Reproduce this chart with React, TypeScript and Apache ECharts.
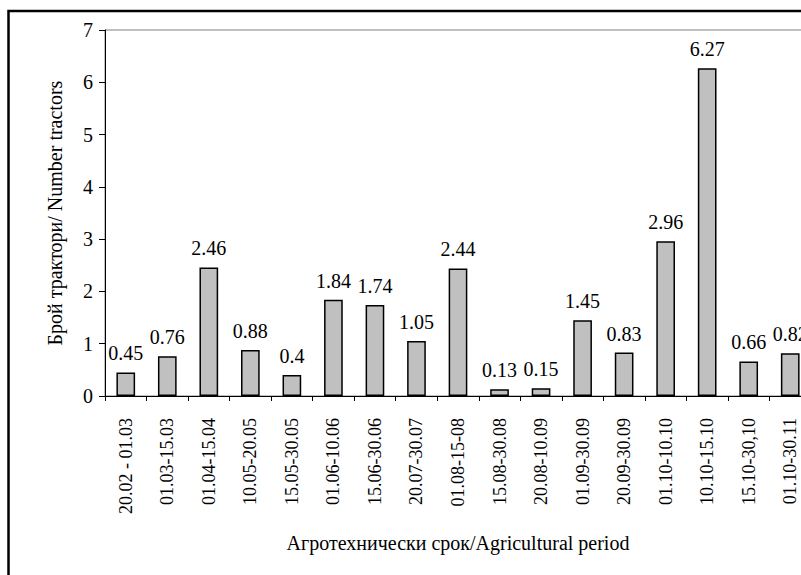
import React, { useEffect, useRef } from "react";
import * as echarts from "echarts";

const categories = [
  "20.02 - 01.03", "01.03-15.03", "01.04-15.04", "10.05-20.05", "15.05-30.05",
  "01.06-10.06", "15.06-30.06", "20.07-30.07", "01.08-15-08", "15.08-30.08",
  "20.08-10.09", "01.09-30.09", "20.09-30.09", "01.10-10.10", "10.10-15.10",
  "15.10-30,10", "01.10-30.11",
];
const tractors = [0.45, 0.76, 2.46, 0.88, 0.4, 1.84, 1.74, 1.05, 2.44, 0.13, 0.15, 1.45, 0.83, 2.96, 6.27, 0.66, 0.82];
const yTicks = [0, 1, 2, 3, 4, 5, 6, 7];
const yTitle = "Брой трактори/ Number tractors";
const xTitle = "Агротехнически срок/Agricultural period";

const FONT = "Liberation Serif";

export default function App() {
  const ref = useRef<HTMLDivElement>(null);
  useEffect(() => {
    if (!ref.current) return;
    const chart = echarts.init(ref.current, null, { renderer: "svg" });
    chart.setOption({
      animation: false,
      backgroundColor: "#ffffff",
      textStyle: { fontFamily: FONT },
      grid: {
        left: 105,
        top: 30,
        right: 0,
        bottom: 179,
        show: true,
        borderColor: "#808080",
        borderWidth: 1,
        containLabel: false,
      },
      xAxis: {
        type: "category",
        data: categories,
        name: xTitle,
        nameLocation: "middle",
        nameGap: 137,
        nameTextStyle: { fontSize: 20, color: "#000", fontFamily: FONT, verticalAlign: "top" },
        axisLine: { lineStyle: { color: "#000", width: 1 } },
        axisTick: { show: true, length: 5, lineStyle: { color: "#000" } },
        axisLabel: { rotate: 90, margin: 22, fontSize: 18, color: "#000", fontFamily: FONT, interval: 0 },
        splitLine: { show: false },
      },
      yAxis: {
        type: "value",
        min: yTicks[0],
        max: yTicks[yTicks.length - 1],
        interval: 1,
        name: yTitle,
        nameLocation: "middle",
        nameGap: 40,
        nameTextStyle: { fontSize: 20, color: "#000", fontFamily: FONT },
        axisLine: { show: true, lineStyle: { color: "#000", width: 1 } },
        axisTick: { show: true, length: 6, lineStyle: { color: "#000" } },
        axisLabel: { fontSize: 20, color: "#000", fontFamily: FONT, margin: 12 },
        splitLine: { show: false },
      },
      series: [
        {
          type: "bar",
          data: tractors,
          barWidth: "45%",
          itemStyle: { color: "#c0c0c0", borderColor: "#000", borderWidth: 1.5 },
          label: {
            show: true,
            position: "top",
            distance: 9,
            fontSize: 20,
            color: "#000",
            fontFamily: FONT,
          },
        },
      ],
      graphic: [
        {
          type: "rect",
          shape: { x: 8.5, y: 11, width: 900, height: 700 },
          style: { fill: "none", stroke: "#000", lineWidth: 2.5 },
          silent: true,
          z: 100,
        },
      ],
    });
    return () => chart.dispose();
  }, []);
  return (
    <div style={{ position: "absolute", left: 0, top: 0, width: 801, height: 575, overflow: "hidden" }}>
      <div ref={ref} style={{ width: 811, height: 575 }} />
    </div>
  );
}
